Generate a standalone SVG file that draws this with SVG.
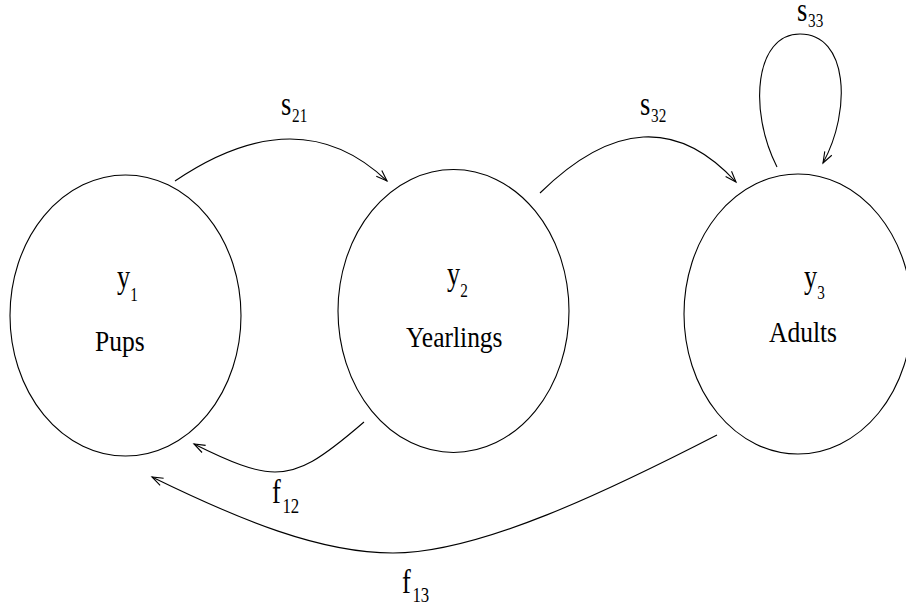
<svg xmlns="http://www.w3.org/2000/svg" width="906" height="606" viewBox="0 0 906 606">
<style>
.node{fill:none;stroke:#000;stroke-width:1.1}
.edge{fill:none;stroke:#000;stroke-width:1.1;marker-end:url(#arr)}
text{font-family:"Liberation Serif","Times New Roman",serif;fill:#000}
.name{font-size:30px}
.lbl{font-size:33px}
.sub{font-size:19px}
.fsub{font-size:21px}
</style>
<defs>
<marker id="arr" markerUnits="userSpaceOnUse" markerWidth="14" markerHeight="10" refX="11" refY="4" orient="auto" overflow="visible">
<path d="M0,0 L11,4 L0,8" fill="none" stroke="#000" stroke-width="1.1"/>
</marker>
</defs>
<rect width="906" height="606" fill="#fff"/>
<g id="pups">
<ellipse class="node" cx="125.5" cy="315.5" rx="115.5" ry="140.5"/>
<text class="lbl" transform="translate(117 288) scale(0.8 1)">y<tspan class="sub" dy="13">1</tspan></text>
<text class="name" transform="translate(95 351) scale(0.85 1)">Pups</text>
</g>
<g id="yearlings">
<ellipse class="node" cx="453.5" cy="311" rx="115.5" ry="141.5"/>
<text class="lbl" transform="translate(447 285) scale(0.8 1)">y<tspan class="sub" dy="12">2</tspan></text>
<text class="name" transform="translate(406 347) scale(0.85 1)">Yearlings</text>
</g>
<g id="adults">
<ellipse class="node" cx="798" cy="314" rx="114" ry="140"/>
<text class="lbl" transform="translate(804 288) scale(0.8 1)">y<tspan class="sub" dy="11">3</tspan></text>
<text class="name" transform="translate(769 342) scale(0.85 1)">Adults</text>
</g>
<g id="connectors">
<path class="edge" d="M175,181 Q299,97 387,181"/>
<path class="edge" d="M540,193 Q648.5,86.5 736,182"/>
<path class="edge" d="M777,167 C748,110 755,34 800,34 C848,34 852,110 823,163"/>
<path class="edge" d="M364,422 C320,460 300,472 275,472 C255,472 230,462 194,444"/>
<path class="edge" d="M717,435 C610,490 480,553 393,553 C320,553 240,520 152,477"/>
</g>
<g id="labels">
<text class="lbl" transform="translate(281 115) scale(0.8 1)">s<tspan class="sub" dx="1" dy="7">21</tspan></text>
<text class="lbl" transform="translate(640 115) scale(0.8 1)">s<tspan class="sub" dx="1" dy="7">32</tspan></text>
<text class="lbl" transform="translate(797 21) scale(0.8 1)">s<tspan class="sub" dx="1" dy="6">33</tspan></text>
<text class="lbl" transform="translate(272 503) scale(0.8 1)">f<tspan class="fsub" dx="2" dy="10">12</tspan></text>
<text class="lbl" transform="translate(402 593) scale(0.8 1)">f<tspan class="fsub" dx="2" dy="9">13</tspan></text>
</g>
</svg>
